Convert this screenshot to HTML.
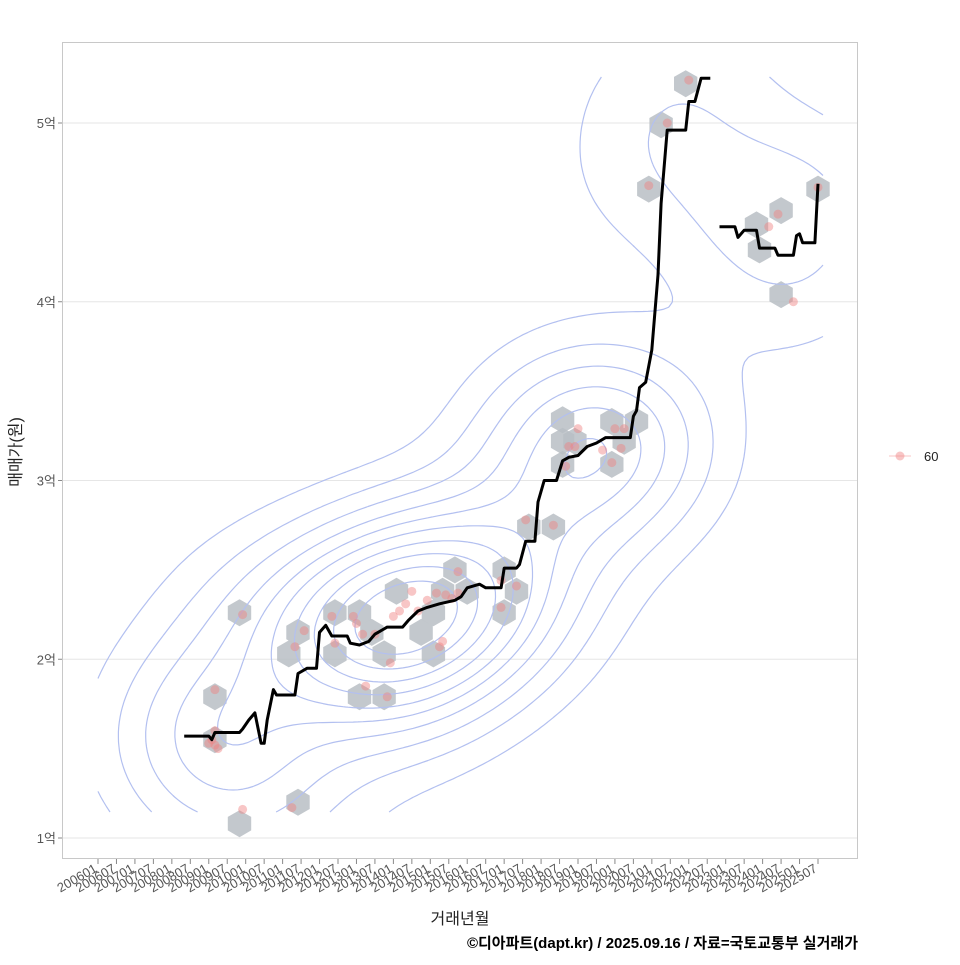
<!DOCTYPE html>
<html><head><meta charset="utf-8"><style>
body{margin:0;background:#fff;}
svg text{font-family:"Liberation Sans","Noto Sans CJK KR",sans-serif;}
</style></head><body>
<svg id="c" width="960" height="960" xmlns="http://www.w3.org/2000/svg"></svg>
<script>
// line series: months since 2006-01, values in 억
const lineMonths=[28,36,37,38,46,47,49,51,53,54,55,57,58,64,65,68,71,72,74,76,81,82,85,88,90,94,99,101,104,107,111,116,118,120,124,126,131,132,136,137,139,142,143,145,149,151,153,156,159,162,165,173,174,175,176,178,180,182,183,185,191,192,194,196,199,null,202,207,208,210,214,215,220,221,226,227,228,229,233,234];
const lineValues=[1.57,1.57,1.55,1.59,1.59,1.61,1.66,1.70,1.53,1.53,1.66,1.83,1.80,1.80,1.92,1.95,1.95,2.15,2.19,2.13,2.13,2.09,2.08,2.10,2.14,2.18,2.18,2.22,2.27,2.29,2.31,2.33,2.35,2.40,2.42,2.40,2.40,2.51,2.51,2.53,2.66,2.66,2.88,3.00,3.00,3.11,3.13,3.14,3.19,3.21,3.24,3.24,3.36,3.39,3.52,3.55,3.73,4.15,4.55,4.96,4.96,5.12,5.12,5.25,5.25,null,4.42,4.42,4.36,4.40,4.40,4.30,4.30,4.26,4.26,4.37,4.38,4.33,4.33,4.66];
const hexMonths=[38,46,46,65,62,65,77,77,85,85,93,93,89,97,105,109,109,112,116,120,132,132,136,140,148,151,151,155,167,167,171,175,179,183,191,214,215,222,222,234,151,38];
const hexValues=[1.79,2.26,1.08,1.20,2.03,2.15,2.26,2.03,2.26,1.79,1.79,2.03,2.15,2.38,2.15,2.03,2.26,2.38,2.50,2.38,2.50,2.26,2.38,2.74,2.74,3.22,3.09,3.22,3.09,3.33,3.22,3.33,4.63,4.99,5.22,4.43,4.29,4.51,4.04,4.63,3.34,1.55];
const ptMonths=[38,37,38,39,36,38,47,47,63,64,67,76,77,83,84,86,87,90,94,95,96,98,100,102,104,107,110,111,112,113,115,117,117,131,131,136,139,148,152,153,156,155,164,167,168,170,171,179,185,192,218,221,226,234];
const ptValues=[1.60,1.55,1.52,1.50,1.53,1.83,2.25,1.16,1.17,2.07,2.16,2.24,2.09,2.24,2.20,2.14,1.85,2.14,1.79,1.98,2.24,2.27,2.31,2.38,2.27,2.33,2.37,2.07,2.10,2.36,2.34,2.37,2.49,2.29,2.44,2.41,2.78,2.75,3.08,3.19,3.29,3.19,3.17,3.10,3.29,3.18,3.29,4.65,5.00,5.24,4.42,4.49,4.00,4.64];
const yTicks=[1,2,3,4,5];
const yTickLabels=["1억","2억","3억","4억","5억"];
const xTickMonths=[];for(let m=0;m<=234;m+=6)xTickMonths.push(m);

const NS="http://www.w3.org/2000/svg",svg=document.getElementById('c');
const X=m=>98+m*720/234, Y=v=>838-(v-1)*178.75;
function el(t,a,p){const e=document.createElementNS(NS,t);for(const k in a)e.setAttribute(k,a[k]);(p||svg).appendChild(e);return e;}
const panel=el('rect',{x:62.5,y:42.5,width:795,height:816,fill:'#fff',stroke:'#c8c8c8'});

const grid=el('g',{});
yTicks.forEach((v,i)=>{el('line',{x1:63,x2:857,y1:Y(v),y2:Y(v),stroke:'#e6e6e6'},grid);
 el('line',{x1:58,x2:62,y1:Y(v),y2:Y(v),stroke:'#888'},grid);
 const t=el('text',{x:56,y:Y(v)+5,'text-anchor':'end','font-size':13,fill:'#555'});t.textContent=yTickLabels[i];
 });
const xg=el('g',{});
xTickMonths.forEach(m=>{const x=X(m);el('line',{x1:x,x2:x,y1:859,y2:864,stroke:'#888'},xg);
 const yr=2006+Math.floor(m/12),mo=m%12+1;
 const t=el('text',{x:x,y:871,'text-anchor':'end','font-size':13,fill:'#555',transform:`rotate(-30 ${x} 871)`},xg);
 t.textContent=yr+String(mo).padStart(2,'0');});
// hexagons
const hg=el('g',{});
hexMonths.forEach((m,i)=>{const cx=X(m),cy=Y(hexValues[i]),r=13.5;let p=[];
 for(let k=0;k<6;k++){const a=Math.PI/6+k*Math.PI/3;p.push((cx+r*Math.cos(a)).toFixed(1)+','+(cy+r*Math.sin(a)).toFixed(1));}
 const h=el('polygon',{points:p.join(' '),fill:'#b9bec4','fill-opacity':0.85},hg);});
// KDE contours
(function(){const x0=98,x1=822,y0=77,y1=810,st=5,sx=70,sy=62;
 const nx=Math.ceil((x1-x0)/st)+1,ny=Math.ceil((y1-y0)/st)+1,g=[];let mx=0;
 const px=ptMonths.map(X),py=ptValues.map(Y);
 for(let j=0;j<ny;j++){g.push([]);for(let i=0;i<nx;i++){const x=x0+i*st,y=y0+j*st;let s=0;
  for(let k=0;k<px.length;k++){const dx=(x-px[k])/sx,dy=(y-py[k])/sy;s+=Math.exp(-0.5*(dx*dx+dy*dy));}
  g[j].push(s);if(s>mx)mx=s;}}
 const levels=[0.06,0.13,0.21,0.3,0.39,0.48,0.58,0.68,0.78,0.88].map(f=>f*mx);
 let d='';
 levels.forEach(L=>{for(let j=0;j<ny-1;j++)for(let i=0;i<nx-1;i++){
  const v=[g[j][i],g[j][i+1],g[j+1][i+1],g[j+1][i]],c=[[i,j],[i+1,j],[i+1,j+1],[i,j+1]],pts=[];
  for(let e=0;e<4;e++){const a=v[e],b=v[(e+1)%4];if((a<L)!==(b<L)){const t=(L-a)/(b-a),A=c[e],B=c[(e+1)%4];
   pts.push([x0+(A[0]+t*(B[0]-A[0]))*st,y0+(A[1]+t*(B[1]-A[1]))*st]);}}
  for(let q=0;q+1<pts.length;q+=2)d+=`M${pts[q][0].toFixed(1)},${pts[q][1].toFixed(1)}L${pts[q+1][0].toFixed(1)},${pts[q+1][1].toFixed(1)}`;}});
 const p=el('path',{d:d,fill:'none',stroke:'#b3c0f0','stroke-width':1.2});})();
// points
const pg=el('g',{});
ptMonths.forEach((m,i)=>{const c=el('circle',{cx:X(m),cy:Y(ptValues[i]),r:4.5,fill:'#f08080','fill-opacity':0.45},pg);
 });
// line
let d='',pen=false;lineMonths.forEach((m,i)=>{if(m===null){pen=false;return;}d+=(pen?'L':'M')+X(m).toFixed(1)+','+Y(lineValues[i]).toFixed(1);pen=true;});
const ln=el('path',{d:d,fill:'none',stroke:'#000','stroke-width':3,'stroke-linejoin':'round'});

// legend
const lg=el('g',{});
el('line',{x1:889,x2:911,y1:456,y2:456,stroke:'#f4a0a0','stroke-opacity':0.6},lg);
el('circle',{cx:900,cy:456,r:4.5,fill:'#f08080','fill-opacity':0.45},lg);
const lt=el('text',{x:924,y:461,'font-size':13,fill:'#222'},lg);lt.textContent='60';
// titles
const xt=el('text',{x:460,y:924,'text-anchor':'middle','font-size':16,fill:'#222'});xt.textContent='거래년월';

const yt=el('text',{x:21,y:452,'text-anchor':'middle','font-size':16,fill:'#222',transform:'rotate(-90 21 452)'});yt.textContent='매매가(원)';

const cap=el('text',{x:858,y:948,'text-anchor':'end','font-size':15,'font-weight':'bold',fill:'#000'});cap.textContent='©디아파트(dapt.kr) / 2025.09.16 / 자료=국토교통부 실거래가';

</script>
</body></html>
